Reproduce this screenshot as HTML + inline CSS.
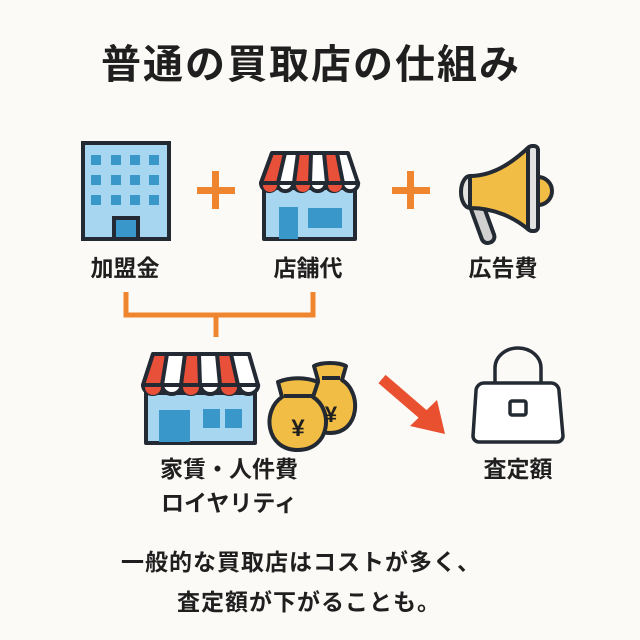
<!DOCTYPE html>
<html><head><meta charset="utf-8"><style>
html,body{margin:0;padding:0;background:#fcfaf6;}
svg{display:block}
text{font-family:"Liberation Sans","Noto Sans CJK JP",sans-serif;font-weight:bold;fill:#1f1f1f}
</style></head><body>
<svg width="640" height="640" viewBox="0 0 640 640" xmlns="http://www.w3.org/2000/svg">
<rect width="640" height="640" fill="#fcfaf6"/>
<text x="311" y="78" font-size="40" text-anchor="middle" letter-spacing="2">普通の買取店の仕組み</text>

<!-- building -->
<g stroke="#232a33" stroke-width="4">
<rect x="83" y="143" width="86" height="96" fill="#a7d6f0"/>
<rect x="114" y="218" width="24" height="21" fill="#3a97c9"/>
</g>
<g fill="#3a97c9">
<rect x="91" y="155" width="10" height="10"/><rect x="111" y="155" width="10" height="10"/><rect x="130" y="155" width="10" height="10"/><rect x="149" y="155" width="10" height="10"/>
<rect x="91" y="175" width="10" height="10"/><rect x="111" y="175" width="10" height="10"/><rect x="130" y="175" width="10" height="10"/><rect x="149" y="175" width="10" height="10"/>
<rect x="91" y="195" width="10" height="10"/><rect x="111" y="195" width="10" height="10"/><rect x="130" y="195" width="10" height="10"/><rect x="149" y="195" width="10" height="10"/>
</g>

<!-- plus -->
<g fill="#f0852f">
<rect x="197" y="187" width="38" height="7"/><rect x="212" y="171" width="7" height="38"/>
<rect x="392" y="187" width="38" height="7"/><rect x="407" y="171" width="7" height="38"/>
</g>

<!-- store 1 -->
<g stroke="#232a33" stroke-width="4" stroke-linejoin="round">
<rect x="264" y="188" width="91" height="51" fill="#a7d6f0"/>
<polygon points="272,153 348,153 358,183 261,183" fill="#fff"/>
<polygon points="272,153 285,153 278,183 261,183" fill="#e8503a"/>
<polygon points="298,153 311,153 310,183 294,183" fill="#e8503a"/>
<polygon points="324,153 337,153 343,183 327,183" fill="#e8503a"/>
<path d="M261,183 a8,8 0 0 0 16.2,0 a8,8 0 0 0 16.2,0 a8,8 0 0 0 16.2,0 a8,8 0 0 0 16.2,0 a8,8 0 0 0 16.2,0 a8,8 0 0 0 16.2,0 z" fill="#fff"/>
</g>
<path d="M263,185 a7,7 0 0 0 14,0 z M296,185 a7,7 0 0 0 14,0z M328,185 a7,7 0 0 0 14,0z" fill="#e8503a"/>
<rect x="279" y="207" width="19" height="32" fill="#3a97c9"/>
<rect x="308" y="208" width="34" height="20" fill="#3a97c9"/>

<!-- megaphone -->
<g stroke="#232a33" stroke-width="4" stroke-linejoin="round">
<rect x="476" y="202" width="13" height="42" rx="6" fill="#d0d0d0" transform="rotate(-20 482 222)"/>
<path d="M538,177 a14,14 0 0 1 0,28 z" fill="#f2bd45"/>
<path d="M470,176 C495,176 515,160 529,147 L529,230 C515,218 495,208 470,208 z" fill="#f2bd45"/>
<rect x="528" y="146" width="10" height="85" rx="4" fill="#e2e2e2"/>
<path d="M470,176 a9,16 0 0 0 0,32 z" fill="#e2e2e2"/>
</g>

<text x="125" y="276" font-size="23" text-anchor="middle">加盟金</text>
<text x="308" y="276" font-size="23" text-anchor="middle">店舗代</text>
<text x="503" y="276" font-size="23" text-anchor="middle">広告費</text>

<!-- bracket -->
<path d="M126,292 V315 H313 V292 M216,315 V337" stroke="#f0852f" stroke-width="5" fill="none"/>

<!-- store 2 -->
<g stroke="#232a33" stroke-width="4" stroke-linejoin="round">
<rect x="146" y="393" width="109" height="50" fill="#a7d6f0"/>
<polygon points="153,354 249,354 258,385 143,385" fill="#fff"/>
<polygon points="153,354 167,354 162,385 143,385" fill="#e8503a"/>
<polygon points="185,354 199,354 200,385 181,385" fill="#e8503a"/>
<polygon points="217,354 231,354 238,385 220,385" fill="#e8503a"/>
<path d="M143,385 a9.6,9 0 0 0 19.2,0 a9.6,9 0 0 0 19.2,0 a9.6,9 0 0 0 19.2,0 a9.6,9 0 0 0 19.2,0 a9.6,9 0 0 0 19.2,0 a9.6,9 0 0 0 19.2,0 z" fill="#fff"/>
</g>
<path d="M145,387 a8,8 0 0 0 16,0 z M183,387 a8,8 0 0 0 16,0z M221,387 a8,8 0 0 0 16,0z" fill="#e8503a"/>
<rect x="159" y="410" width="31" height="32" fill="#3a97c9"/>
<rect x="203" y="409" width="17" height="19" fill="#3a97c9"/>
<rect x="225" y="409" width="17" height="19" fill="#3a97c9"/>

<!-- money bags -->
<g stroke="#232a33" stroke-width="4" stroke-linejoin="round" fill="#f2bd45">
<path d="M318,380 C300,390 300,432 330,433 C360,433 362,392 342,380 L346,366 C338,362 322,362 314,366 z"/>
<path d="M322,378 H340"/>
<path d="M282,397 C262,410 265,450 298,450 C330,450 334,410 313,397 L318,382 C306,377 290,377 278,382 z"/>
<path d="M284,396 H312"/>
</g>
<text x="331" y="422" font-size="22" text-anchor="middle">¥</text>
<text x="298" y="436" font-size="24" text-anchor="middle">¥</text>

<!-- arrow -->
<line x1="382" y1="379" x2="425" y2="416" stroke="#e8502f" stroke-width="11"/>
<polygon points="410,426 437,400 445,434" fill="#e8502f"/>

<!-- handbag -->
<g stroke="#232a33" stroke-width="3.5" fill="#fff" stroke-linejoin="round">
<path d="M495,383 V368 a23,20 0 0 1 46,0 V383" fill="none"/>
<path d="M484,383 H551 a8,8 0 0 1 8,8 L563,436 a6,6 0 0 1 -6,6 H479 a6,6 0 0 1 -6,-6 L476,391 a8,8 0 0 1 8,-8 z"/>
<rect x="510" y="401" width="16" height="14" rx="2"/>
</g>

<text x="229" y="477" font-size="23" text-anchor="middle">家賃・人件費</text>
<text x="229" y="511" font-size="23" text-anchor="middle">ロイヤリティ</text>
<text x="518" y="477" font-size="23" text-anchor="middle">査定額</text>

<text x="301" y="570" font-size="23" text-anchor="middle" letter-spacing="1">一般的な買取店はコストが多く、</text>
<text x="309" y="610" font-size="23" text-anchor="middle" letter-spacing="1">査定額が下がることも。</text>
</svg>
</body></html>
